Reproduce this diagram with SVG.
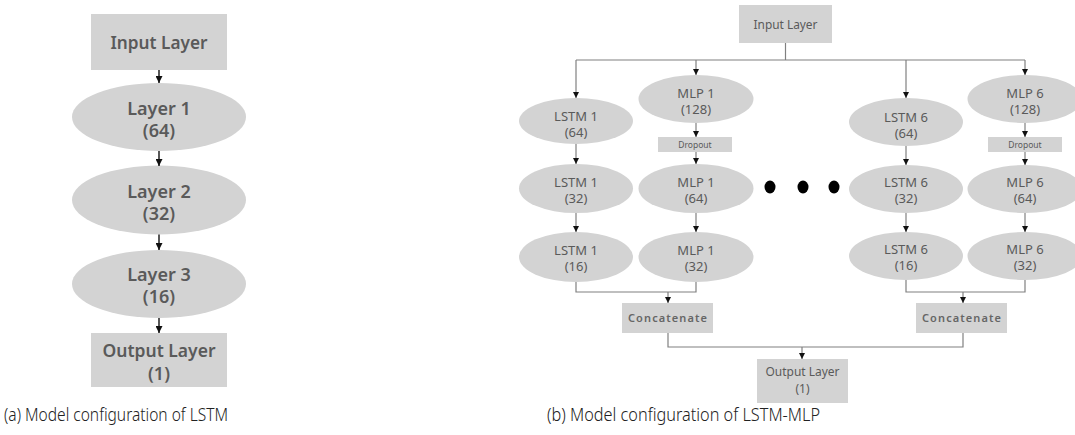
<svg xmlns="http://www.w3.org/2000/svg" width="1075" height="435" viewBox="0 0 1075 435">
<defs>
<marker id="ah" viewBox="0 0 10 10" refX="10" refY="5" markerWidth="6" markerHeight="6" markerUnits="userSpaceOnUse" orient="auto"><path d="M0,0 L10,5 L0,10 z" fill="#111"/></marker>
<marker id="ahL" viewBox="0 0 10 10" refX="10" refY="5" markerWidth="7" markerHeight="7" markerUnits="userSpaceOnUse" orient="auto"><path d="M0,0 L10,5 L0,10 z" fill="#111"/></marker>
<style>
.sh{fill:#d3d3d3;}
.t{font-family:"Noto Sans","Open Sans","Liberation Sans",sans-serif;fill:#5a5a5a;text-anchor:middle;}
.big{font-size:18px;font-weight:600;}
.sm{font-size:13px;}
.xs{font-size:8.5px;}
.cc{font-size:11px;font-weight:600;fill:#666;}
.cap{font-family:"Noto Sans","Open Sans","Liberation Sans",sans-serif;font-size:19px;fill:#222;font-weight:300;}
.la{stroke:#111;stroke-width:1.4;fill:none;marker-end:url(#ahL);}
.ln{stroke:#808080;stroke-width:1.2;fill:none;}
.ar{stroke:#808080;stroke-width:1.2;fill:none;marker-end:url(#ah);}
.dot{fill:#000;}
</style>
</defs>

<!-- Left panel -->
<g id="a-input"><rect class="sh" x="91" y="14" width="136" height="56"/><text class="t big" x="159" y="49" textLength="97" lengthAdjust="spacingAndGlyphs">Input Layer</text></g>
<g id="a-layer1"><ellipse class="sh" cx="159" cy="117" rx="87" ry="34"/><text class="t big" x="159" y="115">Layer 1</text><text class="t big" x="159" y="137">(64)</text></g>
<g id="a-layer2"><ellipse class="sh" cx="159" cy="200" rx="87" ry="34.5"/><text class="t big" x="159" y="198">Layer 2</text><text class="t big" x="159" y="220">(32)</text></g>
<g id="a-layer3"><ellipse class="sh" cx="159" cy="284" rx="87" ry="34"/><text class="t big" x="159" y="281">Layer 3</text><text class="t big" x="159" y="303">(16)</text></g>
<g id="a-output"><rect class="sh" x="91" y="333" width="136" height="54"/><text class="t big" x="159" y="357" textLength="113" lengthAdjust="spacingAndGlyphs">Output Layer</text><text class="t big" x="159" y="380">(1)</text></g>

<!-- Right panel nodes -->
<g id="b-input"><rect class="sh" x="739" y="5" width="93" height="38"/><text class="t" style="font-size:12px" x="785.5" y="29" textLength="64" lengthAdjust="spacingAndGlyphs">Input Layer</text></g>

<g id="b-lstm1-64"><ellipse class="sh" cx="576" cy="121" rx="57" ry="23"/><text class="t sm" x="576" y="121">LSTM 1</text><text class="t sm" x="576" y="137">(64)</text></g>
<g id="b-mlp1-128"><ellipse class="sh" cx="696" cy="99" rx="57.5" ry="24"/><text class="t sm" x="696" y="98">MLP 1</text><text class="t sm" x="696" y="114">(128)</text></g>
<g id="b-drop1"><rect class="sh" x="658" y="137" width="74" height="15"/><text class="t xs" x="695" y="148">Dropout</text></g>
<g id="b-lstm1-32"><ellipse class="sh" cx="576" cy="188.5" rx="57" ry="24.5"/><text class="t sm" x="576" y="187">LSTM 1</text><text class="t sm" x="576" y="203">(32)</text></g>
<g id="b-mlp1-64"><ellipse class="sh" cx="696" cy="188.5" rx="57.5" ry="24.5"/><text class="t sm" x="696" y="187">MLP 1</text><text class="t sm" x="696" y="203">(64)</text></g>
<g id="b-lstm1-16"><ellipse class="sh" cx="576" cy="257" rx="57" ry="25"/><text class="t sm" x="576" y="255">LSTM 1</text><text class="t sm" x="576" y="271">(16)</text></g>
<g id="b-mlp1-32"><ellipse class="sh" cx="696" cy="257" rx="57.5" ry="25"/><text class="t sm" x="696" y="255">MLP 1</text><text class="t sm" x="696" y="271">(32)</text></g>

<g id="b-lstm6-64"><ellipse class="sh" cx="906" cy="122" rx="57" ry="24"/><text class="t sm" x="906" y="122">LSTM 6</text><text class="t sm" x="906" y="138">(64)</text></g>
<g id="b-mlp6-128"><ellipse class="sh" cx="1025" cy="99" rx="57.5" ry="24"/><text class="t sm" x="1025" y="98">MLP 6</text><text class="t sm" x="1025" y="114">(128)</text></g>
<g id="b-drop6"><rect class="sh" x="988" y="137" width="74" height="15"/><text class="t xs" x="1025" y="148">Dropout</text></g>
<g id="b-lstm6-32"><ellipse class="sh" cx="906" cy="189" rx="57" ry="24"/><text class="t sm" x="906" y="187">LSTM 6</text><text class="t sm" x="906" y="203">(32)</text></g>
<g id="b-mlp6-64"><ellipse class="sh" cx="1025" cy="189" rx="57.5" ry="24"/><text class="t sm" x="1025" y="187">MLP 6</text><text class="t sm" x="1025" y="203">(64)</text></g>
<g id="b-lstm6-16"><ellipse class="sh" cx="906" cy="256" rx="57" ry="24"/><text class="t sm" x="906" y="254">LSTM 6</text><text class="t sm" x="906" y="270">(16)</text></g>
<g id="b-mlp6-32"><ellipse class="sh" cx="1025" cy="256" rx="57.5" ry="24"/><text class="t sm" x="1025" y="254">MLP 6</text><text class="t sm" x="1025" y="270">(32)</text></g>

<g id="b-dots"><ellipse class="dot" cx="770" cy="187" rx="5.5" ry="6.5"/><ellipse class="dot" cx="803" cy="187" rx="5.5" ry="6.5"/><ellipse class="dot" cx="834" cy="187" rx="5.5" ry="6.5"/></g>

<g id="b-concat1"><rect class="sh" x="622" y="303" width="91" height="30"/><text class="t cc" x="667.5" y="322" textLength="79" lengthAdjust="spacing">Concatenate</text></g>
<g id="b-concat6"><rect class="sh" x="916" y="303" width="91" height="30"/><text class="t cc" x="961.5" y="322" textLength="79" lengthAdjust="spacing">Concatenate</text></g>
<g id="b-output"><rect class="sh" x="757" y="359" width="91" height="44"/><text class="t" style="font-size:12px" x="802.5" y="376" textLength="74" lengthAdjust="spacingAndGlyphs">Output Layer</text><text class="t" style="font-size:12px" x="802.5" y="393">(1)</text></g>

<!-- Connectors -->
<g id="connectors">
<line class="la" x1="159" y1="70" x2="159" y2="83"/>
<line class="la" x1="159" y1="151" x2="159" y2="166"/>
<line class="la" x1="159" y1="234.5" x2="159" y2="250"/>
<line class="la" x1="159" y1="318" x2="159" y2="333"/>

<line class="ln" x1="785.5" y1="43" x2="785.5" y2="60"/>
<line class="ln" x1="576" y1="60" x2="1025" y2="60"/>
<line class="ar" x1="576" y1="60" x2="576" y2="98"/>
<line class="ar" x1="696" y1="60" x2="696" y2="75"/>
<line class="ar" x1="906" y1="60" x2="906" y2="98"/>
<line class="ar" x1="1025" y1="60" x2="1025" y2="75"/>

<line class="ar" x1="576" y1="144" x2="576" y2="164"/>
<line class="ar" x1="576" y1="213" x2="576" y2="232"/>
<line class="ar" x1="696" y1="123" x2="696" y2="137"/>
<line class="ar" x1="696" y1="152" x2="696" y2="164"/>
<line class="ar" x1="696" y1="213" x2="696" y2="232"/>

<line class="ar" x1="906" y1="146" x2="906" y2="165"/>
<line class="ar" x1="906" y1="213" x2="906" y2="232"/>
<line class="ar" x1="1025" y1="123" x2="1025" y2="137"/>
<line class="ar" x1="1025" y1="152" x2="1025" y2="165"/>
<line class="ar" x1="1025" y1="213" x2="1025" y2="232"/>

<polyline class="ln" points="576,282 576,292 696,292 696,282"/>
<line class="ar" x1="668" y1="292" x2="668" y2="303"/>
<polyline class="ln" points="906,280 906,292 1025,292 1025,280"/>
<line class="ar" x1="963" y1="292" x2="963" y2="303"/>

<polyline class="ln" points="668,333 668,347 963,347 963,333"/>
<line class="ar" x1="802" y1="347" x2="802" y2="359"/>
</g>

<!-- Captions -->
<text class="cap" x="4" y="421" textLength="224" lengthAdjust="spacingAndGlyphs">(a) Model configuration of LSTM</text>
<text class="cap" x="547" y="421" textLength="273" lengthAdjust="spacingAndGlyphs">(b) Model configuration of LSTM-MLP</text>
</svg>
